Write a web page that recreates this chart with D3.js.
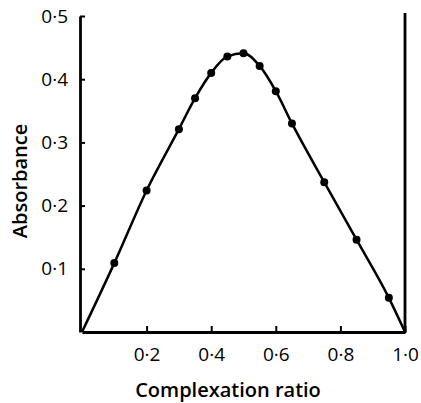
<!DOCTYPE html>
<html>
<head>
<meta charset="utf-8">
<script src="https://cdn.jsdelivr.net/npm/d3@7"></script>
<style>
  body { margin: 0; background: #fff; }
  svg { display: block; }
</style>
</head>
<body>
<svg id="chart"></svg>
<script>
// complexation ratio vs absorbance
const ratio = [0.10, 0.20, 0.30, 0.35, 0.40, 0.45, 0.50, 0.55, 0.60, 0.65, 0.75, 0.85, 0.95]
const absorbance = [0.109, 0.224, 0.321, 0.370, 0.410, 0.436, 0.441, 0.421, 0.381, 0.330, 0.237, 0.146, 0.054]
const xTicks = [0.2, 0.4, 0.6, 0.8, 1.0]
const yTicks = [0.1, 0.2, 0.3, 0.4, 0.5]

const width = 421
const height = 403
const svg = d3.select('#chart').attr('width', width).attr('height', height)

const xScale = d3.scaleLinear().domain([0, 1]).range([82, 405])
const yScale = d3.scaleLinear().domain([0, 0.5]).range([332, 16])

const fmt = d => d3.format('.1f')(d).replace('.', '\u00b7')
const font = '"Open Sans", Lato, sans-serif'

// curve through the points, running to zero at both ends
const pts = [[0, 0]].concat(ratio.map((r, i) => [r, absorbance[i]])).concat([[1, 0]])
const line = d3.line()
    .x(d => xScale(d[0]))
    .y(d => yScale(d[1]))
    .curve(d3.curveMonotoneX)

svg.append('path')
    .datum(pts)
    .attr('d', line)
    .attr('fill', 'none')
    .attr('stroke', '#000')
    .attr('stroke-width', 2.5)

svg.selectAll('circle.pt').data(ratio)
    .enter().append('circle')
        .attr('class', 'pt')
        .attr('cx', d => xScale(d))
        .attr('cy', (d, i) => yScale(absorbance[i]))
        .attr('r', 4)
        .attr('fill', '#000')

const xAxis = svg.append('g')
    .attr('transform', `translate(0,${yScale(0)})`)
    .call(d3.axisBottom(xScale).tickValues(xTicks).tickFormat(fmt)
        .tickSize(-6).tickSizeOuter(0).tickPadding(16))
xAxis.select('.domain').attr('stroke-width', 2.8)
xAxis.selectAll('line').attr('stroke-width', 2)
xAxis.selectAll('text')
    .attr('font-family', font)
    .attr('font-size', 19)
    .attr('fill', '#000')

const yAxis = svg.append('g')
    .attr('transform', `translate(${xScale(0) - 2},0)`)
    .call(d3.axisLeft(yScale).tickValues(yTicks).tickFormat(fmt)
        .tickSize(-5).tickSizeOuter(0).tickPadding(12))
yAxis.select('.domain').attr('stroke-width', 2.8)
yAxis.selectAll('line').attr('stroke-width', 2)
yAxis.selectAll('text')
    .attr('font-family', font)
    .attr('font-size', 19)
    .attr('fill', '#000')

// right-hand frame line
svg.append('line')
    .attr('x1', xScale(1)).attr('x2', xScale(1))
    .attr('y1', yScale(0) + 1).attr('y2', 13)
    .attr('stroke', '#000')
    .attr('stroke-width', 2.8)

svg.append('text')
    .attr('x', 228)
    .attr('y', 397)
    .attr('text-anchor', 'middle')
    .attr('font-family', font)
    .attr('font-weight', 600)
    .attr('font-size', 20)
    .text('Complexation ratio')

svg.append('text')
    .attr('transform', 'translate(27,181) rotate(-90)')
    .attr('text-anchor', 'middle')
    .attr('font-family', font)
    .attr('font-weight', 600)
    .attr('font-size', 20)
    .text('Absorbance')
</script>
</body>
</html>
